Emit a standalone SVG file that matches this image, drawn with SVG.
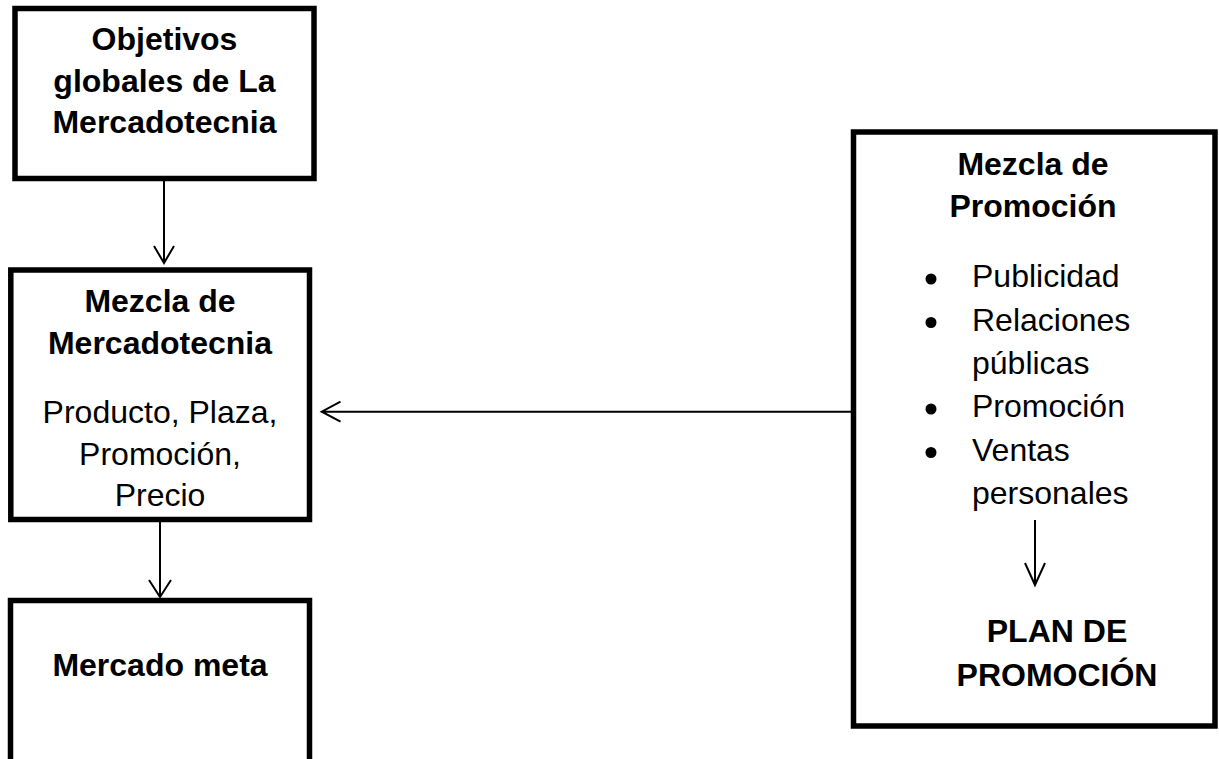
<svg xmlns="http://www.w3.org/2000/svg" width="1219" height="759" viewBox="0 0 1219 759">
<style>
.box{fill:#fff;stroke:#000;stroke-width:5.5}
.t{font-family:"Liberation Sans",Arial,sans-serif;font-size:32px;fill:#000}
.b{font-weight:bold}
.c{text-anchor:middle}
.ln{fill:none;stroke:#000;stroke-width:2}
</style>
<rect width="1219" height="759" fill="#fff"/>
<g id="connectors">
<path class="ln" d="M164,181 V263 M154,246 L164,263 L174,246"/>
<path class="ln" d="M160,522 V597 M149,580 L160,597 L171,580"/>
<path class="ln" d="M853.5,411.7 H321.7 M340.5,401.7 L321.7,411.7 L340.5,421.7"/>
</g>
<g id="node-objetivos">
<rect class="box" x="15" y="8.5" width="299" height="170"/>
<text class="t b c" x="164.5" y="50">Objetivos</text>
<text class="t b c" x="164.5" y="91.5">globales de La</text>
<text class="t b c" x="164.5" y="133">Mercadotecnia</text>
</g>
<g id="node-mezcla-mercadotecnia">
<rect class="box" x="10.8" y="270" width="298.7" height="249.5"/>
<text class="t b c" x="160" y="312">Mezcla de</text>
<text class="t b c" x="160" y="353.5">Mercadotecnia</text>
<text class="t c" x="160" y="423">Producto, Plaza,</text>
<text class="t c" x="160" y="464.5">Promoción,</text>
<text class="t c" x="160" y="506">Precio</text>
</g>
<g id="node-mercado-meta">
<rect class="box" x="10.5" y="600.5" width="299" height="220"/>
<text class="t b c" x="160" y="676">Mercado meta</text>
</g>
<g id="node-mezcla-promocion">
<rect class="box" x="853.5" y="132" width="361.5" height="594"/>
<text class="t b c" x="1033" y="175">Mezcla de</text>
<text class="t b c" x="1033" y="217">Promoción</text>
<circle cx="931" cy="279" r="5.5"/>
<text class="t" x="972" y="287">Publicidad</text>
<circle cx="931" cy="322.5" r="5.5"/>
<text class="t" x="972" y="330.5">Relaciones</text>
<text class="t" x="972" y="374">públicas</text>
<circle cx="931" cy="409" r="5.5"/>
<text class="t" x="972" y="417">Promoción</text>
<circle cx="931" cy="452.5" r="5.5"/>
<text class="t" x="972" y="460.5">Ventas</text>
<text class="t" x="972" y="504">personales</text>
<path class="ln" d="M1035,520 V585 M1025,563 L1035,585 L1045,563"/>
<text class="t b c" x="1057" y="642">PLAN DE</text>
<text class="t b c" x="1057" y="686">PROMOCIÓN</text>
</g>
</svg>
